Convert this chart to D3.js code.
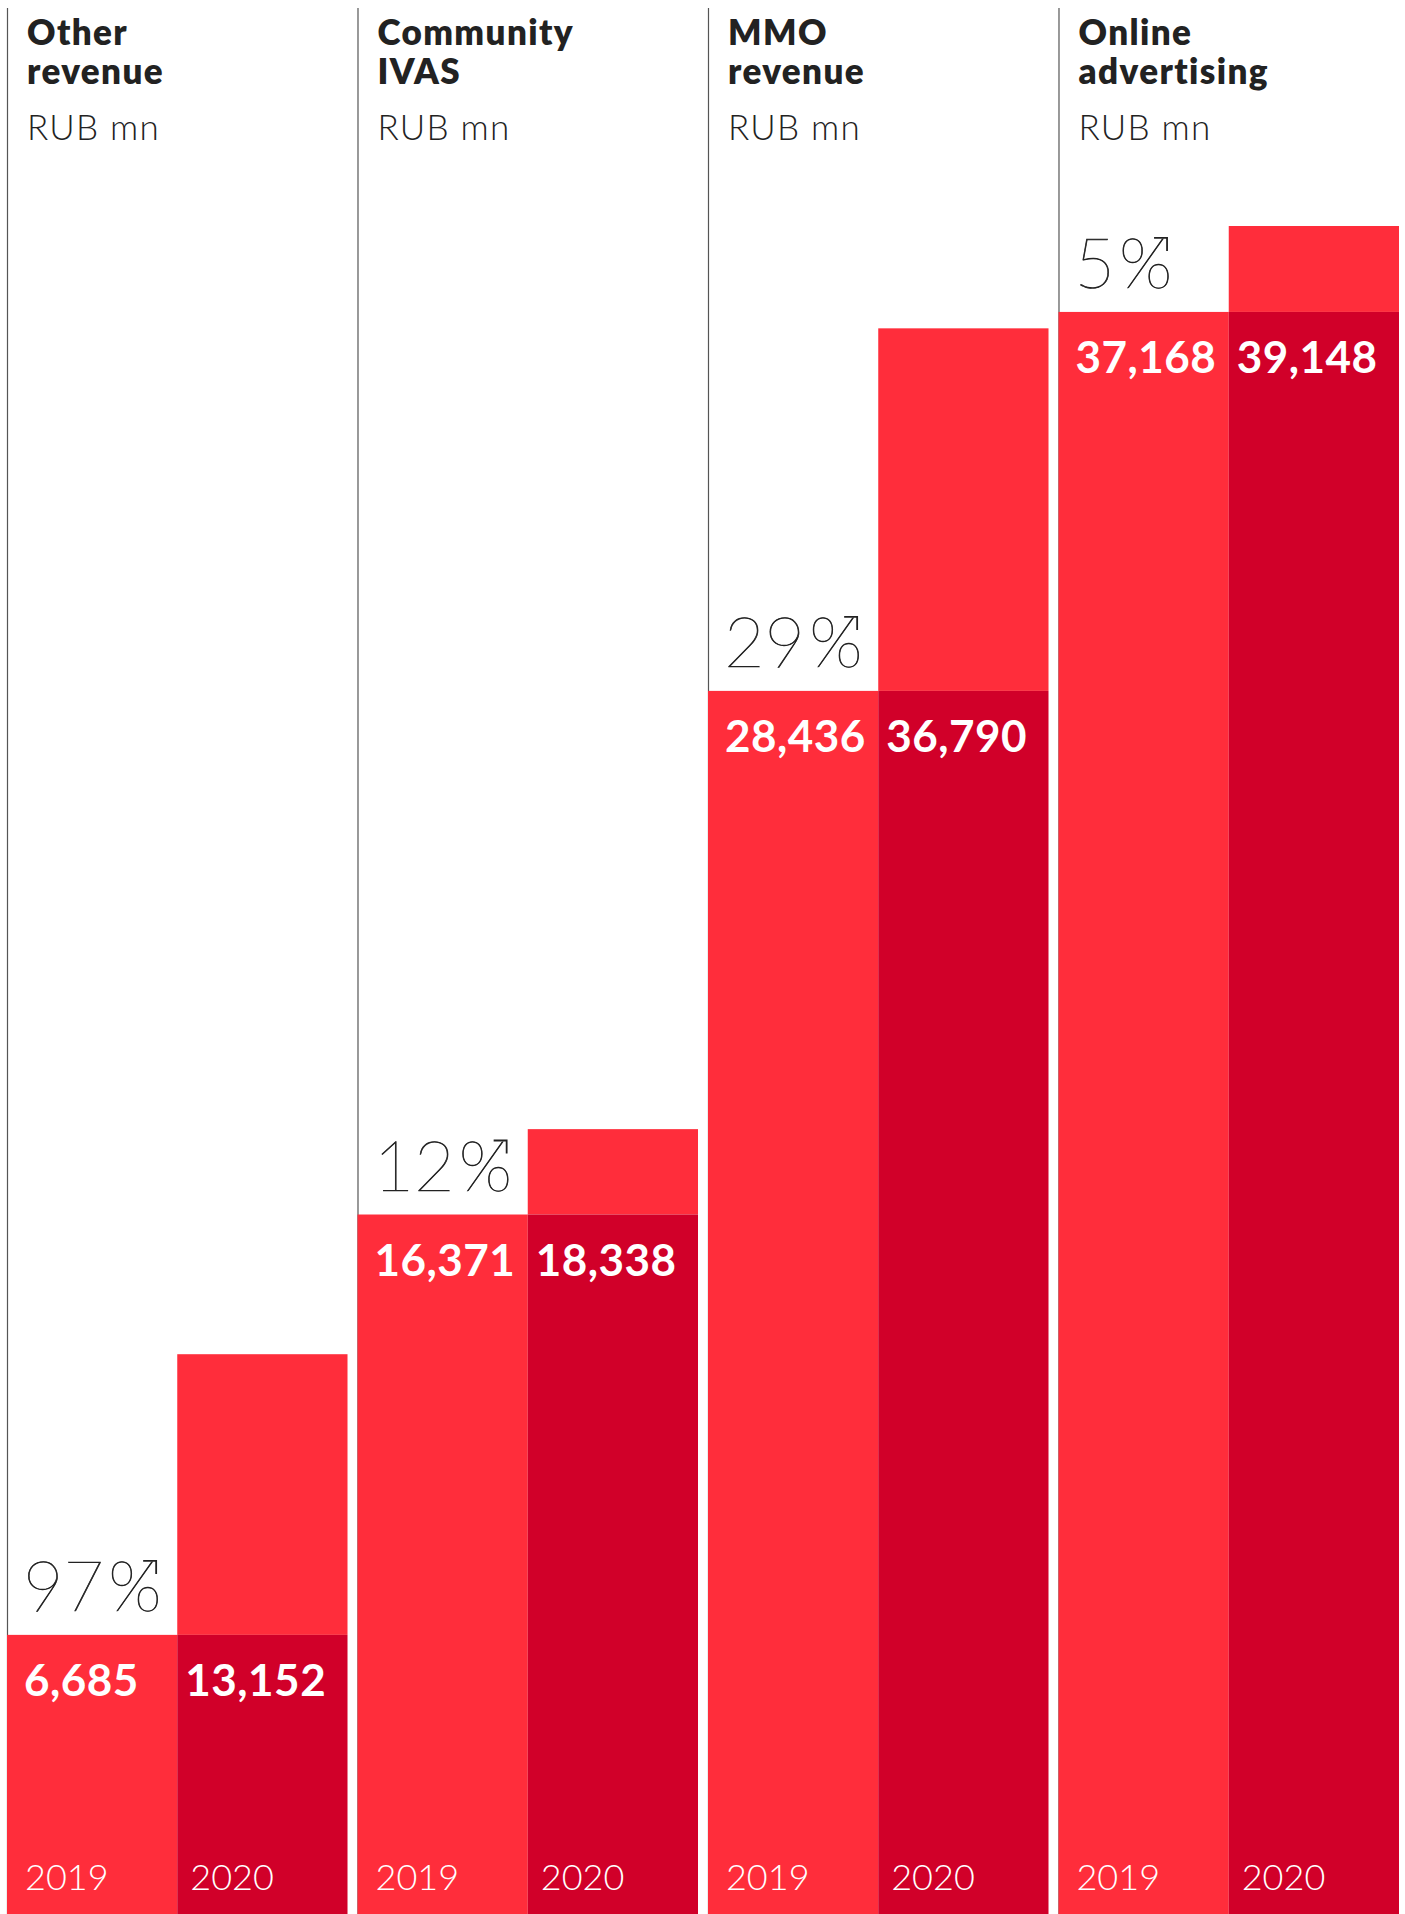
<!DOCTYPE html>
<html><head><meta charset="utf-8">
<script src="https://cdn.jsdelivr.net/npm/d3@7"></script>
<style>body{margin:0;background:#fff} svg{display:block}</style>
</head><body>
<svg id="chart" width="1405" height="1914"></svg>
<script>
const categories = ["Other revenue","Community IVAS","MMO revenue","Online advertising"];
const titleLines = [["Other","revenue"],["Community","IVAS"],["MMO","revenue"],["Online","advertising"]];
const years = ["2019","2020"];
const values2019 = [6685,16371,28436,37168];
const values2020 = [13152,18338,36790,39148];
const growthLabels = ["97","12","29","5"];
const unitLabel = "RUB mn";

const svg = d3.select("#chart");
const FONT = "Lato, 'Open Sans', sans-serif";
const lightRed = "#ff2d3b", darkRed = "#d10029", ink = "#222";

const x = d3.scaleBand().domain(categories).range([7, 1399]).paddingInner(0.0285).paddingOuter(0);
const xi = d3.scaleBand().domain(years).range([0, x.bandwidth()]);
const y = d3.scaleLinear().domain([0, 39148]).range([1925, 226]);
const fmt = d3.format(",");

const data = categories.map((c,i)=>({cat:c, lines:titleLines[i], v19:values2019[i], v20:values2020[i], g:growthLabels[i]}));

const panels = svg.selectAll("g.panel").data(data).join("g")
  .attr("class","panel")
  .attr("transform", d=>`translate(${x(d.cat)},0)`);

// left rule
panels.append("line")
  .attr("x1",0.5).attr("x2",0.5).attr("y1",8).attr("y2",y(0))
  .attr("stroke","#555").attr("stroke-width",1.2);

// titles
panels.each(function(d){
  const g = d3.select(this);
  const t = g.append("text").attr("font-family",FONT).attr("font-weight",800)
    .attr("font-size",35).attr("letter-spacing",1.4).attr("fill",ink);
  d.lines.forEach((ln,j)=>t.append("tspan").attr("x",20).attr("y",45+j*39).text(ln));
  g.append("text").attr("x",20).attr("y",140).attr("font-family",FONT)
    .attr("font-weight",300).attr("font-size",35).attr("letter-spacing",1.2).attr("fill",ink).text(unitLabel);
});

// bars
panels.append("rect").attr("x",xi("2019")).attr("y",d=>y(d.v19))
  .attr("width",xi.bandwidth()).attr("height",d=>y(0)-y(d.v19)).attr("fill",lightRed);
panels.append("rect").attr("x",xi("2020")).attr("y",d=>y(d.v20))
  .attr("width",xi.bandwidth()).attr("height",d=>y(d.v19)-y(d.v20)).attr("fill",lightRed);
panels.append("rect").attr("x",xi("2020")).attr("y",d=>y(d.v19))
  .attr("width",xi.bandwidth()).attr("height",d=>y(0)-y(d.v19)).attr("fill",darkRed);

// value labels
panels.append("text").attr("x",xi("2019")+17).attr("y",d=>y(d.v19)+61)
  .attr("font-family",FONT).attr("font-weight",700).attr("font-size",44).attr("letter-spacing",0.5).attr("fill","#fff")
  .text(d=>fmt(d.v19));
panels.append("text").attr("x",xi("2020")+8).attr("y",d=>y(d.v19)+61)
  .attr("font-family",FONT).attr("font-weight",700).attr("font-size",44).attr("letter-spacing",0.5).attr("fill","#fff")
  .text(d=>fmt(d.v20));

// year labels
panels.append("text").attr("x",xi("2019")+18).attr("y",1890)
  .attr("font-family",FONT).attr("font-weight",300).attr("font-size",36).attr("fill","#fff").text(years[0]);
panels.append("text").attr("x",xi("2020")+13).attr("y",1890)
  .attr("font-family",FONT).attr("font-weight",300).attr("font-size",36).attr("fill","#fff").text(years[1]);

// growth labels with rising arrow on the percent sign
panels.each(function(d){
  const g = d3.select(this);
  const by = y(d.v19)-24;
  const t = g.append("text").attr("x",16).attr("y",by)
    .attr("font-family",FONT).attr("font-weight",200).attr("font-size",70).attr("fill",ink)
    .attr("stroke",ink).attr("stroke-width",0.7);
  t.append("tspan").text(d.g);
  t.append("tspan").attr("dx",4).text("%");
  const n = t.text().length;
  const ext = t.node().getExtentOfChar(n-1);
  const tipX = ext.x + ext.width*0.9, tipY = by - 50;
  g.append("path").attr("d",`M${tipX-13},${tipY}L${tipX},${tipY}L${tipX},${tipY+13}`)
    .attr("fill","none").attr("stroke",ink).attr("stroke-width",1.8);
});
</script>
</body></html>
